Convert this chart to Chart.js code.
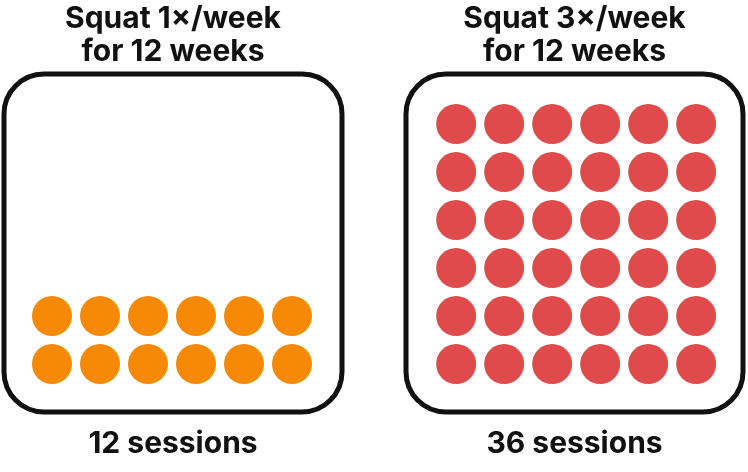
<!DOCTYPE html>
<html><head><meta charset="utf-8">
<script src="https://cdn.jsdelivr.net/npm/chart.js@4"></script>
<style>html,body{margin:0;padding:0;background:#fff}</style>
</head><body>
<canvas id="c" width="748" height="472"></canvas>
<script>
const titles = [["Squat 1×/week","for 12 weeks"],["Squat 3×/week","for 12 weeks"]];
const sessions = [12, 36];
const labels = ["12 sessions","36 sessions"];
const colors = ["#F68A06","#DF4B4B"];
const perRow = 6;
const panelOffset = [0, 8.42];

function dots(n, off){
  const pts=[];
  for(let i=0;i<n;i++){pts.push({x:off+(i%perRow), y:Math.floor(i/perRow)});}
  return pts;
}

const boxes = [{x:4,y:74,w:338,h:338},{x:406,y:74,w:337,h:338}];
const deco = {
  id:'deco',
  beforeDatasetsDraw(chart){
    const ctx=chart.ctx;
    ctx.save();
    ctx.lineWidth=5; ctx.strokeStyle='#111';
    boxes.forEach(b=>{ctx.beginPath();ctx.roundRect(b.x,b.y,b.w,b.h,40);ctx.stroke();});
    ctx.fillStyle='#111'; ctx.textAlign='center'; ctx.textBaseline='middle';
    ctx.font='bold 30px Inter, "DejaVu Sans", sans-serif';
    boxes.forEach((b,i)=>{
      const cx=b.x+b.w/2;
      ctx.fillText(titles[i][0],cx,19);
      ctx.fillText(titles[i][1],cx,52);
      ctx.fillText(labels[i],cx,444);
    });
    ctx.restore();
  }
};

new Chart(document.getElementById('c'),{
  type:'scatter',
  data:{datasets:sessions.map((n,i)=>({data:dots(n,panelOffset[i]),backgroundColor:colors[i],borderWidth:0,pointRadius:20,pointHoverRadius:20}))},
  options:{responsive:false,devicePixelRatio:1,animation:false,
    layout:{padding:0,autoPadding:false},
    plugins:{legend:{display:false},tooltip:{enabled:false}},
    scales:{
      x:{type:'linear',display:false,min:-52/48,max:(748-52)/48},
      y:{type:'linear',display:false,min:-(472-364)/48,max:364/48}
    }},
  plugins:[deco]
});
</script>
</body></html>
